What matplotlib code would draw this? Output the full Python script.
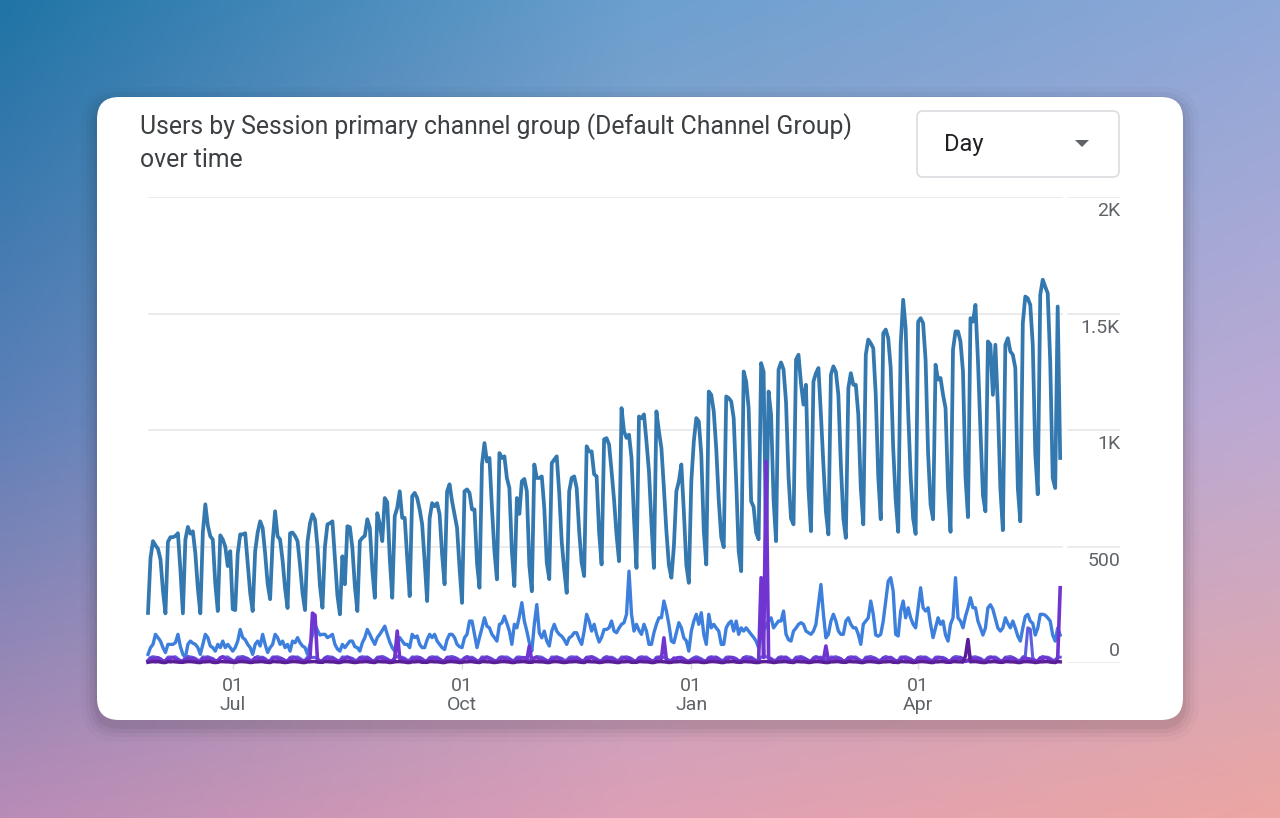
import numpy as np
import pandas as pd
import matplotlib
matplotlib.use("Agg")
import matplotlib.pyplot as plt
from matplotlib.patches import FancyBboxPatch, Polygon

plt.rcParams['font.family'] = ['Roboto', 'DejaVu Sans']

# daily users, starting Sunday 2023-05-28
start_day = "2023-05-28"

main = [
    215, 450, 523, 505, 490, 445, 310,
    213, 520, 540, 540, 545, 557, 400,
    213, 530, 584, 555, 565, 470, 320,
    213, 560, 681, 590, 544, 530, 340,
    223, 548, 530, 500, 416, 480, 231,
    227, 470, 552, 552, 557, 430, 300,
    223, 480, 560, 608, 580, 470, 340,
    274, 520, 651, 544, 530, 440, 320,
    236, 557, 560, 545, 523, 420, 300,
    227, 520, 600, 638, 615, 500, 330,
    237, 500, 595, 600, 608, 450, 290,
    209, 458, 338, 587, 583, 494, 330,
    223, 523, 537, 546, 617, 580, 400,
    280, 643, 595, 523, 708, 690, 450,
    280, 630, 666, 737, 623, 623, 451,
    287, 716, 730, 708, 659, 595, 437,
    266, 621, 686, 673, 686, 638, 466,
    338, 737, 767, 694, 638, 580, 408,
    258, 737, 745, 730, 659, 659, 430,
    323, 852, 944, 865, 880, 666, 480,
    359, 901, 880, 887, 794, 751, 480,
    330, 708, 640, 780, 790, 737, 420,
    308, 852, 794, 794, 801, 666, 430,
    360, 858, 873, 887, 730, 520, 400,
    301, 737, 794, 801, 751, 566, 430,
    373, 930, 908, 908, 810, 801, 560,
    423, 960, 965, 937, 823, 700, 550,
    437, 1094, 994, 966, 980, 880, 620,
    408, 1058, 1050, 1067, 951, 823, 600,
    408, 1080, 994, 922, 750, 566, 420,
    366, 500, 737, 780, 852, 650, 420,
    344, 780, 951, 1051, 1037, 894, 566,
    423, 1165, 1151, 1080, 920, 700, 540,
    497, 1144, 1137, 1123, 1051, 780, 480,
    394, 1251, 1208, 1094, 694, 670, 560,
    531, 1287, 1250, 500, 1165, 1066, 700,
    523, 1259, 1290, 1260, 1120, 800, 620,
    595, 1302, 1323, 1200, 1109, 1194, 750,
    566, 1208, 1244, 1266, 1066, 850, 650,
    552, 1237, 1273, 1250, 1151, 850, 620,
    537, 1180, 1244, 1194, 1194, 1066, 750,
    595, 1323, 1388, 1372, 1351, 1151, 800,
    617, 1415, 1431, 1394, 1266, 922, 700,
    563, 1366, 1559, 1437, 1080, 800, 620,
    554, 1465, 1480, 1458, 1300, 900, 680,
    617, 1280, 1216, 1223, 1151, 1094, 750,
    563, 1345, 1423, 1423, 1380, 1250, 800,
    626, 1480, 1465, 1537, 1300, 1000, 720,
    651, 1380, 1366, 1151, 1366, 1100, 750,
    570, 1366, 1394, 1337, 1323, 1266, 750,
    608, 1458, 1573, 1565, 1537, 1366, 900,
    724, 1580, 1645, 1615, 1587, 1294, 794,
    751, 1530, 880,
]

second = [
    37, 66, 80, 123, 109, 94, 66,
    45, 80, 80, 80, 87, 123, 70,
    37, 23, 80, 94, 85, 80, 66,
    37, 80, 123, 109, 73, 66, 51,
    80, 66, 94, 66, 80, 66, 51,
    66, 94, 144, 109, 100, 80, 66,
    37, 80, 94, 73, 123, 80, 45,
    66, 80, 123, 109, 80, 94, 66,
    80, 51, 94, 87, 109, 87, 73,
    66, 37, 80, 123, 165, 140, 120,
    123, 123, 109, 115, 123, 80, 60,
    51, 80, 66, 80, 94, 94, 70,
    66, 51, 87, 109, 144, 123, 100,
    80, 109, 123, 140, 158, 123, 90,
    66, 51, 94, 109, 94, 80, 80,
    66, 123, 109, 116, 80, 66, 66,
    100, 123, 109, 123, 94, 80, 66,
    58, 100, 123, 123, 109, 80, 70,
    66, 109, 123, 180, 180, 123, 66,
    109, 150, 194, 158, 151, 123, 109,
    94, 165, 172, 201, 170, 137, 80,
    166, 151, 200, 259, 180, 137, 87,
    51, 166, 251, 130, 108, 137, 94,
    73, 137, 166, 137, 123, 115, 100,
    80, 108, 115, 130, 130, 101, 80,
    137, 209, 180, 137, 166, 123, 90,
    110, 144, 144, 151, 180, 137, 130,
    150, 166, 173, 209, 394, 209, 137,
    166, 140, 123, 166, 137, 80, 80,
    130, 166, 194, 194, 266, 223, 166,
    94, 87, 130, 173, 151, 108, 95,
    51, 137, 180, 209, 166, 216, 123,
    80, 209, 151, 166, 150, 137, 80,
    80, 151, 170, 180, 137, 180, 123,
    151, 137, 151, 137, 123, 110, 94,
    66, 120, 140, 160, 180, 194, 151,
    166, 180, 180, 223, 123, 100, 94,
    137, 150, 166, 173, 166, 137, 130,
    123, 137, 166, 250, 337, 209, 108,
    123, 180, 209, 180, 137, 123, 123,
    180, 194, 166, 151, 151, 123, 80,
    166, 180, 194, 266, 209, 120, 115,
    123, 180, 266, 351, 366, 308, 123,
    116, 223, 266, 194, 237, 194, 166,
    151, 237, 323, 237, 223, 237, 166,
    109, 151, 194, 166, 180, 120, 94,
    166, 194, 366, 194, 180, 151, 200,
    237, 280, 237, 237, 180, 151, 120,
    150, 237, 250, 230, 190, 150, 137,
    151, 194, 170, 151, 180, 150, 115,
    94, 150, 200, 209, 180, 170, 120,
    150, 209, 209, 205, 194, 180, 120,
    94, 150, 120,
]

violet = [
    8, 16, 20, 18, 22, 14, 7,
    9, 18, 19, 24, 17, 13, 6,
    7, 15, 21, 18, 20, 12, 8,
    8, 19, 17, 22, 18, 15, 9,
    10, 20, 26, 18, 16, 12, 7,
    7, 16, 18, 21, 19, 14, 8,
    9, 22, 19, 17, 20, 13, 6,
    8, 17, 24, 19, 18, 15, 9,
    7, 18, 20, 23, 16, 12, 8,
    9, 16, 21, 214, 205, 14, 7,
    8, 19, 22, 18, 20, 13, 9,
    10, 17, 18, 24, 19, 12, 7,
    8, 21, 19, 17, 22, 15, 8,
    7, 18, 23, 20, 17, 13, 9,
    9, 20, 137, 19, 18, 14, 6,
    8, 17, 21, 18, 23, 12, 7,
    9, 19, 18, 22, 17, 15, 8,
    7, 22, 20, 19, 21, 13, 9,
    10, 18, 24, 17, 19, 14, 7,
    8, 20, 19, 23, 18, 12, 8,
    9, 17, 22, 20, 16, 15, 9,
    7, 19, 18, 21, 22, 13, 73,
    8, 21, 23, 18, 17, 14, 8,
    9, 18, 20, 22, 19, 12, 7,
    7, 16, 19, 17, 21, 15, 9,
    10, 22, 18, 24, 18, 13, 8,
    8, 19, 21, 19, 20, 14, 7,
    9, 17, 23, 18, 22, 12, 9,
    7, 20, 19, 21, 17, 15, 8,
    8, 18, 22, 19, 108, 13, 7,
    9, 21, 18, 23, 19, 14, 9,
    6, 12, 17, 19, 16, 11, 7,
    8, 19, 21, 18, 22, 13, 8,
    9, 17, 20, 24, 18, 15, 7,
    7, 22, 19, 17, 21, 12, 9,
    10, 366, 24, 866, 20, 14, 8,
    8, 18, 21, 19, 23, 13, 7,
    9, 20, 18, 22, 17, 15, 9,
    7, 17, 23, 20, 19, 12, 73,
    8, 19, 20, 18, 21, 14, 8,
    10, 21, 19, 23, 18, 13, 7,
    8, 18, 22, 17, 20, 15, 9,
    9, 20, 19, 21, 22, 12, 8,
    7, 17, 24, 19, 18, 14, 7,
    8, 22, 18, 20, 21, 13, 9,
    9, 19, 21, 23, 17, 15, 8,
    7, 18, 20, 19, 22, 12, 7,
    10, 21, 19, 18, 20, 14, 9,
    8, 17, 23, 22, 18, 13, 8,
    9, 20, 18, 19, 21, 15, 7,
    7, 19, 22, 18, 17, 12, 9,
    8, 21, 19, 24, 20, 14, 8,
    9, 20, 323,
]

dark = [
    3, 5, 6, 5, 6, 4, 2,
    2, 6, 5, 6, 5, 4, 3,
    3, 5, 6, 6, 5, 4, 2,
    2, 5, 5, 6, 6, 3, 2,
    3, 6, 6, 5, 5, 4, 3,
    2, 5, 6, 6, 5, 4, 2,
    3, 5, 5, 6, 6, 4, 3,
    2, 6, 6, 5, 5, 3, 2,
    3, 5, 6, 6, 5, 4, 2,
    2, 5, 5, 6, 6, 4, 3,
    3, 6, 6, 5, 5, 4, 2,
    2, 5, 6, 6, 5, 3, 2,
    3, 5, 5, 6, 6, 4, 3,
    2, 6, 6, 5, 5, 4, 2,
    3, 5, 6, 6, 5, 4, 2,
    2, 5, 5, 6, 6, 3, 3,
    3, 6, 6, 5, 5, 4, 2,
    2, 5, 6, 6, 5, 4, 2,
    3, 5, 5, 6, 6, 4, 3,
    2, 6, 6, 5, 5, 3, 2,
    3, 5, 6, 6, 5, 4, 2,
    2, 5, 5, 6, 6, 4, 3,
    3, 6, 6, 5, 5, 4, 2,
    2, 5, 6, 6, 5, 3, 2,
    3, 5, 5, 6, 6, 4, 3,
    2, 6, 6, 5, 5, 4, 2,
    3, 5, 6, 6, 5, 4, 2,
    2, 5, 5, 6, 6, 3, 3,
    3, 6, 6, 5, 5, 4, 2,
    2, 5, 6, 6, 5, 4, 2,
    3, 5, 5, 6, 6, 4, 3,
    2, 4, 5, 5, 5, 3, 2,
    3, 5, 6, 6, 5, 4, 2,
    2, 5, 5, 6, 6, 4, 3,
    3, 6, 6, 5, 5, 3, 2,
    2, 5, 6, 6, 5, 4, 2,
    3, 5, 5, 6, 6, 4, 3,
    2, 6, 6, 5, 5, 4, 2,
    3, 5, 6, 6, 5, 3, 2,
    2, 5, 5, 6, 6, 4, 3,
    3, 6, 6, 5, 5, 4, 2,
    2, 5, 6, 6, 5, 4, 2,
    3, 5, 5, 6, 6, 3, 3,
    2, 6, 6, 5, 5, 4, 2,
    3, 5, 6, 6, 5, 4, 2,
    2, 5, 5, 6, 6, 4, 3,
    3, 6, 6, 5, 5, 4, 30,
    101, 5, 6, 6, 5, 3, 2,
    2, 5, 5, 6, 6, 4, 3,
    3, 6, 6, 5, 5, 4, 2,
    2, 5, 6, 6, 5, 4, 2,
    3, 5, 5, 6, 6, 4, 3,
    2, 6, 5,
]

indigo = [
    12, 24, 27, 25, 23, 19, 10,
    11, 25, 26, 24, 27, 18, 11,
    10, 23, 28, 26, 24, 20, 12,
    12, 26, 25, 27, 23, 19, 10,
    11, 24, 27, 25, 26, 18, 11,
    10, 25, 26, 28, 24, 20, 12,
    12, 23, 28, 24, 25, 19, 10,
    11, 26, 25, 27, 23, 18, 11,
    10, 24, 27, 25, 26, 20, 12,
    12, 25, 26, 24, 24, 19, 10,
    11, 23, 28, 26, 25, 18, 11,
    10, 26, 25, 27, 23, 20, 12,
    12, 24, 27, 25, 26, 19, 10,
    11, 25, 26, 28, 24, 18, 11,
    10, 23, 28, 24, 25, 20, 12,
    12, 26, 25, 27, 23, 19, 10,
    11, 24, 27, 25, 26, 18, 11,
    10, 25, 26, 28, 24, 20, 12,
    12, 23, 28, 24, 25, 19, 10,
    11, 26, 25, 27, 23, 18, 11,
    10, 24, 27, 25, 26, 20, 12,
    12, 25, 26, 24, 24, 19, 10,
    11, 23, 28, 26, 25, 18, 11,
    10, 26, 25, 27, 23, 20, 12,
    12, 24, 27, 25, 26, 19, 10,
    11, 25, 26, 28, 24, 18, 11,
    10, 23, 28, 24, 25, 20, 12,
    12, 26, 25, 27, 23, 19, 10,
    11, 24, 27, 25, 26, 18, 11,
    10, 25, 26, 28, 24, 20, 12,
    12, 18, 22, 24, 25, 19, 10,
    9, 16, 23, 27, 23, 18, 11,
    10, 24, 27, 25, 26, 20, 12,
    12, 25, 26, 24, 24, 19, 10,
    11, 23, 28, 26, 25, 18, 11,
    10, 26, 25, 27, 23, 20, 12,
    12, 24, 27, 25, 26, 19, 10,
    11, 25, 26, 28, 24, 18, 11,
    10, 23, 28, 24, 25, 20, 12,
    12, 26, 25, 27, 23, 19, 10,
    11, 24, 27, 25, 26, 18, 11,
    10, 25, 26, 28, 24, 20, 12,
    12, 23, 28, 24, 25, 19, 10,
    11, 26, 25, 27, 23, 18, 11,
    10, 24, 27, 25, 26, 20, 12,
    12, 25, 26, 24, 24, 19, 10,
    11, 23, 28, 26, 25, 18, 11,
    10, 26, 25, 27, 23, 20, 12,
    12, 24, 27, 25, 26, 19, 10,
    11, 25, 26, 28, 24, 18, 11,
    12, 26, 30, 151, 145, 22, 11,
    10, 23, 28, 24, 25, 20, 12,
    12, 26, 25,
]

tick_dates = ["2023-07-01", "2023-10-01", "2024-01-01", "2024-04-01"]
tick_labels = ["01\nJul", "01\nOct", "01\nJan", "01\nApr"]
y_ticks = [0, 500, 1000, 1500, 2000]
y_labels = ["0", "500", "1K", "1.5K", "2K"]

W, H = 1280, 818
fig = plt.figure(figsize=(W / 100, H / 100), dpi=100)

# background gradient + card
bg = fig.add_axes([0, 0, 1, 1])
bg.set_xlim(0, W)
bg.set_ylim(H, 0)
bg.axis('off')

grid_cols = np.array([
    [[32, 116, 166], [108, 160, 206], [142, 168, 216]],
    [[92, 128, 184], [160, 164, 206], [188, 170, 212]],
    [[184, 140, 182], [222, 160, 182], [236, 166, 162]],
], dtype=float) / 255
gx = np.linspace(0, 1, 256)
gy = np.linspace(0, 1, 164)
rows = np.stack([np.stack([np.interp(gx, [0, .5, 1], grid_cols[r, :, c]) for c in range(3)], -1) for r in range(3)])
img = np.stack([np.stack([np.interp(gy, [0, .5, 1], rows[:, i, c]) for c in range(3)], -1) for i in range(len(gx))], 1)
bg.imshow(img, extent=[0, W, H, 0], aspect='auto', interpolation='bicubic', zorder=0)

for s, a in [(16, 0.02), (11, 0.03), (7, 0.04), (3, 0.05)]:
    bg.add_patch(FancyBboxPatch((97 - s, 97 - s + 6), 1086 + 2 * s, 623 + 2 * s,
                                boxstyle=f"round,pad=0,rounding_size={22 + s}",
                                fc='black', ec='none', alpha=a, zorder=1))
bg.add_patch(FancyBboxPatch((97, 97), 1086, 623, boxstyle="round,pad=0,rounding_size=22",
                            fc='white', ec='none', zorder=2))

bg.text(140, 134, "Users by Session primary channel group (Default Channel Group)",
        fontsize=17.8, color='#3c4043', va='baseline', zorder=3)
bg.text(140, 167, "over time", fontsize=17.8, color='#3c4043', va='baseline', zorder=3)

bg.add_patch(FancyBboxPatch((917, 111), 202, 66, boxstyle="round,pad=0,rounding_size=6",
                            fc='white', ec='#dadce0', lw=1.2, zorder=3))
bg.text(944, 151, "Day", fontsize=17, color='#202124', va='baseline', zorder=4)
bg.add_patch(Polygon([(1075, 140), (1089, 140), (1082, 147)], closed=True,
                     fc='#5f6368', ec='none', zorder=4))

# chart
x0, x1, y0, y1 = 148, 1120, 663, 197
ax = fig.add_axes([x0 / W, (H - y0) / H, (x1 - x0) / W, (y0 - y1) / H])
ax.patch.set_alpha(0)
for sp in ax.spines.values():
    sp.set_visible(False)

dates = pd.date_range(start_day, periods=len(main), freq='D')
ax.set_xlim(dates[0], dates[0] + pd.Timedelta(days=390))
ax.set_ylim(0, 2000)

gap_a = (1062 - x0) / (x1 - x0)
gap_b = (1068 - x0) / (x1 - x0)
for v in y_ticks:
    ax.axhline(v, xmin=0, xmax=gap_a, color='#e6e6e6', lw=1.1, zorder=1)
    ax.axhline(v, xmin=gap_b, xmax=1, color='#e6e6e6', lw=1.1, zorder=1)

ax.plot(dates, main, color='#3478b0', lw=2.7, zorder=3, clip_on=False, solid_joinstyle='round')
ax.plot(dates, second, color='#3d7fdc', lw=2.4, zorder=4, clip_on=False, solid_joinstyle='round')
ax.plot(dates, indigo, color='#5c60de', lw=2.2, zorder=5, clip_on=False, solid_joinstyle='round')
ax.plot(dates, violet, color='#7035d0', lw=2.6, zorder=6, clip_on=False, solid_joinstyle='round')
ax.plot(dates, dark, color='#5a1e96', lw=2.5, zorder=7, clip_on=False, solid_joinstyle='round')

ax.set_yticks([])
ax.set_xticks(pd.to_datetime(tick_dates))
ax.set_xticklabels(tick_labels)
ax.tick_params(axis='x', length=4, width=1, color='#dadce0', pad=6,
               labelsize=14, labelcolor='#5f6368')
for lbl in ax.get_xticklabels():
    lbl.set_linespacing(1.05)

for v, t in zip(y_ticks, y_labels):
    off = 8.6 if v == 0 else -10.1
    ax.annotate(t, xy=(1, v), xycoords=('axes fraction', 'data'), xytext=(0, off),
                textcoords='offset points', ha='right', va='center',
                fontsize=14, color='#5f6368')

fig.savefig("out.png", dpi=100)
